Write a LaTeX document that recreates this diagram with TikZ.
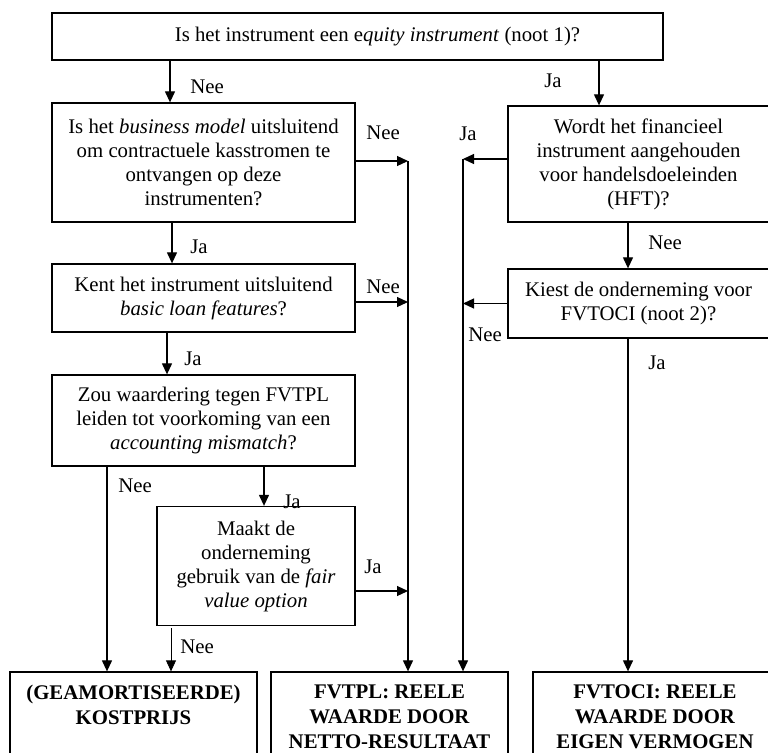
\documentclass[tikz,border=0pt]{standalone}
\usepackage{fontspec}
\setmainfont{Liberation Serif}
\usetikzlibrary{arrows.meta,calc}
\newcommand{\myfs}{\fontsize{20.8}{24}\selectfont}
\newcommand{\mybf}{\fontsize{20.8}{25}\selectfont\bfseries}
\begin{document}
\begin{tikzpicture}[x=1pt,y=-1pt,
  box/.style={draw=black, line width=1.3pt, align=center, inner sep=0pt, font=\myfs},
  endbox/.style={draw=black, line width=1.3pt, inner sep=0pt},
  endtxt/.style={align=center, inner sep=0pt, font=\mybf, anchor=north},
  lbl/.style={inner sep=0pt, font=\myfs},
  arr/.style={line width=1.2pt, -{Triangle[length=11pt,width=10pt]}},
  thinarr/.style={line width=0.8pt, -{Triangle[length=11pt,width=10pt]}},
  ln/.style={line width=1.2pt}]
\useasboundingbox (0,0) rectangle (768,752);
\fill[white] (0,0) rectangle (768,752);

% boxes
\node[box, minimum width=611pt, minimum height=47pt] (top) at (357.5,36.5)
  {\hspace*{40pt}Is het instrument een e\textit{quity instrument} (noot 1)?};
\node[box, minimum width=303pt, minimum height=119pt] (box2) at (203.5,162.5)
  {Is het \textit{business model} uitsluitend\\om contractuele kasstromen te\\ontvangen op deze\\instrumenten?};
\node[box, minimum width=303pt, minimum height=68pt] (box3) at (203.5,298)
  {Kent het instrument uitsluitend\\\textit{basic loan features}?};
\node[box, minimum width=303pt, minimum height=91pt] (box4) at (203.5,420.5)
  {Zou waardering tegen FVTPL\\leiden tot voorkoming van een\\\textit{accounting mismatch}?};
\node[box, minimum width=198pt, minimum height=119pt] (box5) at (256,566)
  {Maakt de\\onderneming\\gebruik van de \textit{fair}\\\textit{value option}};
\node[box, minimum width=261pt, minimum height=116pt] (hft) at (638.5,164)
  {Wordt het financieel\\instrument aangehouden\\voor handelsdoeleinden\\(HFT)?};
\node[box, minimum width=261pt, minimum height=69pt] (fvo) at (638.5,303.5)
  {Kiest de onderneming voor\\FVTOCI (noot 2)?};

% end boxes
\node[endbox, minimum width=247pt, minimum height=90pt] (bl) at (133.5,717) {};
\node[endbox, minimum width=237pt, minimum height=90pt] (bm) at (389.5,717) {};
\node[endbox, minimum width=244pt, minimum height=90pt] (br) at (655,717) {};
\node[endtxt] (blt) at (133.5,685) {(GEAMORTISEERDE)\\KOSTPRIJS};
\node[endtxt] (bmt) at (389.5,685) {FVTPL: REELE\\WAARDE DOOR\\NETTO-RESULTAAT};
\node[endtxt] (brt) at (655,685) {FVTOCI: REELE\\WAARDE DOOR\\EIGEN VERMOGEN};

% helper coordinates
\coordinate (xa) at (170,0);
\coordinate (xb) at (599,0);
\coordinate (xc) at (172,0);
\coordinate (xd) at (167,0);
\coordinate (xe) at (107,0);
\coordinate (xf) at (264,0);
\coordinate (xg) at (171,0);
\coordinate (xh) at (628,0);
\coordinate (vL) at (408,0);
\coordinate (vR) at (463,0);
\coordinate (b2e) at ([yshift=1.5pt]box2.east);
\coordinate (b3e) at ([yshift=-4pt]box3.east);
\coordinate (b5e) at ([yshift=-25pt]box5.east);
\coordinate (hw) at ([yshift=5pt]hft.west);
\coordinate (fw) at (fvo.west);

% connectors
\draw[arr] (top.south -| xa) -- (box2.north -| xa);
\draw[arr] (top.south -| xb) -- (hft.north -| xb);
\draw[arr] (box2.south -| xc) -- (box3.north -| xc);
\draw[arr] (box3.south -| xd) -- (box4.north -| xd);
\draw[arr] (box4.south -| xf) -- (box5.north -| xf);
\draw[arr] (box4.south -| xe) -- (bl.north -| xe);
\draw[thinarr, shorten <=2pt] (box5.south -| xg) -- (bl.north -| xg);
\draw[arr] (b2e) -- (b2e -| vL);
\draw[arr] (b3e) -- (b3e -| vL);
\draw[arr] (b5e) -- (b5e -| vL);
\draw[arr] (b2e -| vL) -- (bm.north -| vL);
\draw[arr] (hw) -- (hw -| vR);
\draw[arr] (fw) -- (fw -| vR);
\draw[arr] (hw -| vR) -- (bm.north -| vR);
\draw[arr] (hft.south -| xh) -- (fvo.north -| xh);
\draw[arr] (fvo.south -| xh) -- (br.north -| xh);

% labels
\node[lbl] (l1) at (207,87) {Nee};
\node[lbl] (l2) at (553,81) {Ja};
\node[lbl] (l3) at (383,133) {Nee};
\node[lbl] (l4) at (468,134) {Ja};
\node[lbl] (l5) at (199,247) {Ja};
\node[lbl] (l6) at (383,287) {Nee};
\node[lbl] (l7) at (665,243) {Nee};
\node[lbl] (l8) at (485,335) {Nee};
\node[lbl] (l9) at (657,363) {Ja};
\node[lbl] (l10) at (193,359) {Ja};
\node[lbl] (l11) at (135,486) {Nee};
\node[lbl] (l12) at (292,502) {Ja};
\node[lbl] (l13) at (373,567) {Ja};
\node[lbl] (l14) at (197,647) {Nee};
\end{tikzpicture}
\end{document}
